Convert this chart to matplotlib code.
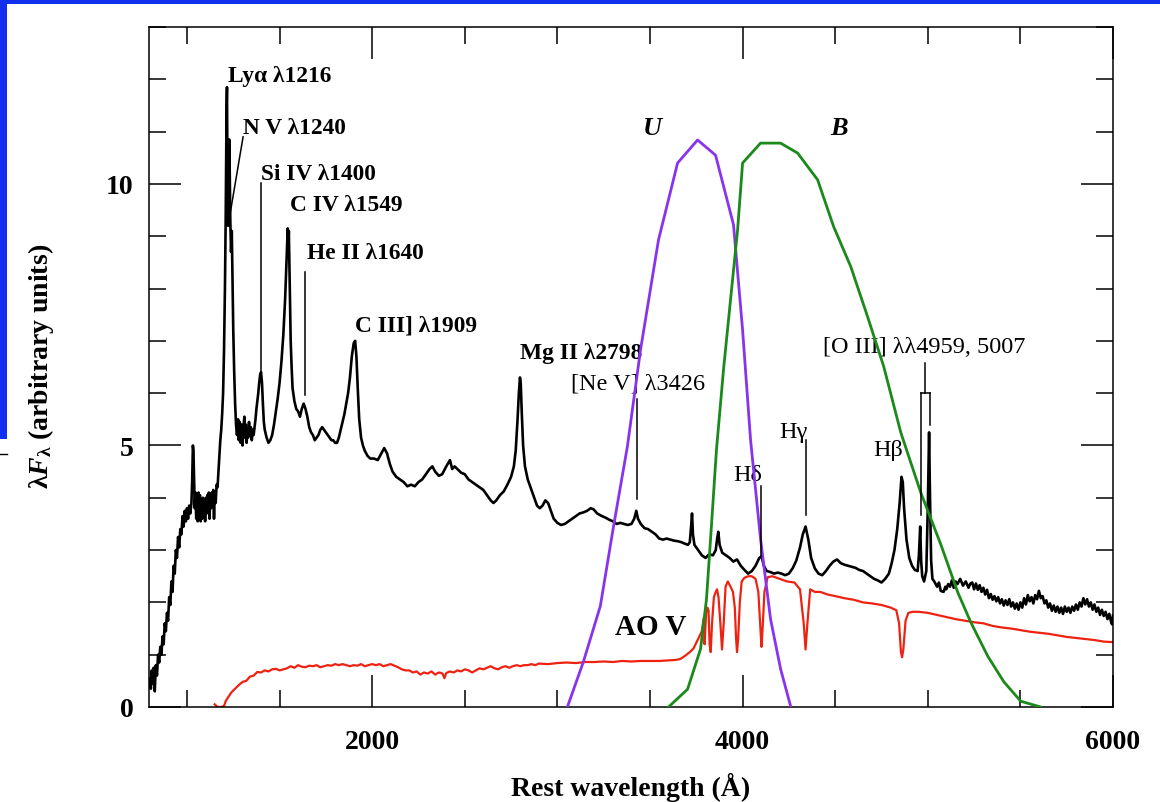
import matplotlib
matplotlib.use("Agg")
import matplotlib.pyplot as plt
from matplotlib.patches import Rectangle
from matplotlib.lines import Line2D
from matplotlib.ticker import MultipleLocator

plt.rcParams['font.family'] = ['Liberation Serif', 'DejaVu Serif']
plt.rcParams['font.weight'] = 'bold'
plt.rcParams['mathtext.fontset'] = 'custom'
plt.rcParams['mathtext.rm'] = 'Liberation Serif:bold'
plt.rcParams['mathtext.it'] = 'Liberation Serif:italic:bold'
plt.rcParams['mathtext.bf'] = 'Liberation Serif:bold'

# quasar composite spectrum
qso_wave = [800, 805, 810, 815, 820, 826, 832, 838, 844, 850, 856, 862, 868, 874, 880, 886, 892, 898,
            904, 910, 916, 922, 928, 934, 940, 946, 952, 958, 964, 970, 976, 982, 988, 994, 1000, 1006,
            1012, 1018, 1024, 1028, 1032, 1035, 1038, 1042, 1046, 1050, 1054, 1058, 1062, 1066, 1070,
            1074, 1078, 1082, 1086, 1090, 1094, 1098, 1102, 1106, 1110, 1114, 1118, 1122, 1126, 1130,
            1134, 1138, 1142, 1146, 1150, 1155, 1160, 1165, 1170, 1175, 1180, 1185, 1190, 1195, 1200,
            1205, 1209, 1212, 1214, 1216, 1219, 1222, 1225, 1228, 1231, 1234, 1238, 1242, 1246, 1250,
            1255, 1260, 1265, 1270, 1276, 1280, 1285, 1290, 1295, 1300, 1305, 1310, 1314, 1318, 1322,
            1326, 1330, 1335, 1340, 1345, 1350, 1355, 1360, 1365, 1370, 1375, 1380, 1385, 1390, 1395,
            1400, 1405, 1410, 1415, 1420, 1430, 1440, 1450, 1460, 1470, 1480, 1490, 1500, 1510, 1520,
            1530, 1536, 1540, 1544, 1548, 1550, 1553, 1556, 1560, 1565, 1570, 1580, 1590, 1600, 1610,
            1620, 1630, 1640, 1650, 1660, 1670, 1680, 1690, 1700, 1710, 1720, 1730, 1740, 1750, 1760,
            1770, 1780, 1790, 1800, 1810, 1820, 1830, 1840, 1850, 1860, 1870, 1880, 1890, 1900, 1908,
            1915, 1922, 1930, 1940, 1950, 1960, 1975, 1990, 2010, 2030, 2050, 2065, 2080, 2095, 2110,
            2130, 2150, 2170, 2190, 2210, 2230, 2250, 2270, 2290, 2310, 2325, 2340, 2360, 2378, 2400,
            2420, 2432, 2445, 2460, 2480, 2500, 2520, 2540, 2560, 2580, 2600, 2620, 2640, 2655, 2670,
            2690, 2710, 2730, 2750, 2765, 2775, 2785, 2792, 2798, 2802, 2808, 2815, 2825, 2840, 2855,
            2870, 2890, 2905, 2920, 2935, 2950, 2965, 2980, 3000, 3020, 3040, 3060, 3080, 3100, 3120,
            3140, 3160, 3180, 3195, 3215, 3240, 3260, 3280, 3300, 3320, 3340, 3360, 3380, 3400, 3415,
            3426, 3435, 3450, 3470, 3490, 3510, 3530, 3550, 3570, 3590, 3610, 3630, 3650, 3670, 3690,
            3705, 3715, 3722, 3727, 3732, 3740, 3760, 3780, 3800, 3820, 3840, 3855, 3862, 3869, 3876,
            3890, 3910, 3930, 3950, 3970, 3990, 4010, 4030, 4050, 4070, 4090, 4102, 4115, 4130, 4150,
            4170, 4190, 4210, 4230, 4250, 4270, 4290, 4310, 4325, 4340, 4355, 4370, 4390, 4410, 4430,
            4450, 4470, 4490, 4510, 4530, 4550, 4570, 4590, 4610, 4630, 4650, 4670, 4690, 4710, 4730,
            4750, 4770, 4790, 4805, 4820, 4835, 4848, 4858, 4865, 4872, 4885, 4900, 4915, 4930, 4945,
            4952, 4959, 4964, 4970, 4980, 4992, 5000, 5007, 5012, 5018, 5025, 5035, 5050, 5060, 5070,
            5085, 5095, 5100, 5110, 5120, 5130, 5140, 5150, 5160, 5175, 5190, 5205, 5220, 5230, 5240,
            5250, 5260, 5270, 5280, 5290, 5300, 5310, 5320, 5330, 5340, 5350, 5360, 5370, 5380, 5390,
            5400, 5410, 5420, 5430, 5440, 5450, 5460, 5470, 5480, 5490, 5500, 5510, 5520, 5530, 5540,
            5550, 5560, 5570, 5580, 5590, 5600, 5610, 5620, 5630, 5640, 5650, 5660, 5670, 5680, 5690,
            5700, 5710, 5720, 5730, 5740, 5750, 5760, 5770, 5780, 5790, 5800, 5810, 5820, 5830, 5840,
            5850, 5860, 5870, 5880, 5890, 5900, 5910, 5920, 5930, 5940, 5950, 5960, 5970, 5980, 5990,
            5995, 6000]
qso_flux = [0.55, 0.35, 0.7, 0.45, 0.75, 0.3, 0.8, 0.6, 1.0, 0.85, 1.15, 1.0, 1.35, 1.2, 1.6, 1.45, 1.8, 1.65,
            2.1, 1.95, 2.4, 2.2, 2.7, 2.55, 3.0, 2.85, 3.25, 3.05, 3.4, 3.3, 3.65, 3.45, 3.75, 3.55, 3.8, 3.6,
            3.85, 3.7, 3.9, 4.3, 5.0, 4.9, 4.4, 3.8, 4.1, 3.6, 4.0, 3.55, 4.1, 3.7, 4.05,
            3.55, 3.95, 3.6, 4.0, 3.65, 3.9, 3.55, 4.0, 3.7, 4.05, 3.75, 4.1, 3.6, 4.05, 3.8,
            4.1, 3.85, 4.15, 3.6, 4.1, 3.9, 4.25, 4.2, 4.5, 4.8, 5.1, 5.3, 5.6, 6.0, 6.8,
            8.0, 9.3, 10.6, 11.5, 11.85, 10.0, 9.2, 9.8, 10.85, 10.2, 9.3, 8.7, 9.1, 8.2, 7.2,
            6.4, 5.8, 5.4, 5.2, 5.5, 5.1, 5.45, 5.05, 5.4, 5.0, 5.35, 5.55, 5.15, 5.4, 5.05,
            5.3, 5.15, 5.45, 5.2, 5.35, 5.1, 5.3, 5.2, 5.35, 5.5, 5.7, 5.85, 6.0, 6.2, 6.35,
            6.4, 6.2, 5.8, 5.45, 5.3, 5.15, 5.05, 5.1, 5.2, 5.4, 5.65, 5.9, 6.2, 6.6, 7.1,
            7.8, 8.4, 8.8, 9.15, 8.9, 9.1, 8.5, 7.8, 7.0, 6.5, 6.1, 5.85, 5.7, 5.65, 5.55,
            5.7, 5.8, 5.7, 5.55, 5.35, 5.25, 5.2, 5.1, 5.15, 5.2, 5.3, 5.35, 5.3, 5.25, 5.2,
            5.15, 5.1, 5.1, 5.05, 5.05, 5.15, 5.3, 5.45, 5.6, 5.8, 6.0, 6.3, 6.7, 6.95, 7.0,
            6.7, 6.1, 5.5, 5.15, 5.0, 4.9, 4.8, 4.75, 4.75, 4.72, 4.85, 4.95, 4.85, 4.65, 4.5,
            4.4, 4.35, 4.3, 4.22, 4.25, 4.22, 4.3, 4.35, 4.45, 4.55, 4.6, 4.5, 4.42, 4.45, 4.6,
            4.72, 4.55, 4.6, 4.55, 4.48, 4.45, 4.35, 4.3, 4.25, 4.2, 4.15, 4.05, 3.95, 3.9, 3.95,
            4.05, 4.12, 4.25, 4.4, 4.6, 4.9, 5.5, 6.0, 6.3, 6.2, 5.6, 5.0, 4.6, 4.35, 4.2,
            4.05, 3.85, 3.8, 3.85, 3.95, 3.9, 3.75, 3.6, 3.52, 3.48, 3.5, 3.55, 3.6, 3.65, 3.7,
            3.72, 3.75, 3.8, 3.78, 3.7, 3.65, 3.62, 3.58, 3.55, 3.5, 3.52, 3.5, 3.48, 3.5, 3.6,
            3.75, 3.6, 3.5, 3.42, 3.4, 3.35, 3.3, 3.22, 3.2, 3.22, 3.2, 3.18, 3.17, 3.15, 3.12,
            3.1, 3.15, 3.45, 3.7, 3.3, 3.1, 3.0, 2.9, 2.85, 2.92, 2.9, 3.0, 3.2, 3.35, 3.1,
            2.95, 2.9, 2.85, 2.78, 2.82, 2.7, 2.62, 2.55, 2.6, 2.7, 2.85, 2.88, 2.7, 2.6, 2.58,
            2.55, 2.57, 2.55, 2.52, 2.55, 2.65, 2.8, 3.05, 3.3, 3.45, 3.2, 2.85, 2.65, 2.55, 2.52,
            2.6, 2.7, 2.78, 2.82, 2.75, 2.72, 2.7, 2.68, 2.66, 2.62, 2.6, 2.55, 2.5, 2.45, 2.42,
            2.38, 2.45, 2.55, 2.75, 3.0, 3.4, 3.9, 4.4, 4.3, 3.8, 3.2, 2.85, 2.7, 2.62, 2.6,
            2.9, 3.45, 2.8, 2.5, 2.4, 2.6, 3.8, 5.25, 4.0, 2.8, 2.45, 2.4, 2.3, 2.38, 2.22,
            2.2, 2.3, 2.25, 2.35, 2.3, 2.42, 2.28, 2.4, 2.35, 2.45, 2.32, 2.4, 2.28, 2.36, 2.38,
            2.25, 2.36, 2.24, 2.33, 2.2, 2.28, 2.15, 2.24, 2.08, 2.16, 2.05, 2.12, 2.02, 2.1, 1.98,
            2.06, 1.94, 2.04, 1.95, 2.06, 1.92, 2.0, 1.88, 1.98, 1.86, 2.0, 1.9, 2.08, 1.96, 2.14,
            2.02, 2.1, 1.98, 2.14, 2.06, 2.22, 2.08, 2.12, 1.98, 2.04, 1.9, 1.98, 1.84, 1.94, 1.82,
            1.92, 1.8, 1.9, 1.78, 1.92, 1.82, 1.9, 1.8, 1.92, 1.84, 1.96, 1.86, 2.0, 1.92, 2.08,
            1.96, 2.06, 1.92, 2.0, 1.86, 1.96, 1.82, 1.9, 1.76, 1.86, 1.74, 1.82, 1.68, 1.78, 1.62,
            1.58, 1.75]

# A0 V star spectrum
star_wave = [1150, 1165, 1185, 1200, 1210, 1225, 1240, 1260, 1280, 1300, 1320, 1340, 1360, 1380, 1400,
             1420, 1440, 1460, 1480, 1500, 1520, 1540, 1560, 1580, 1600, 1620, 1640, 1660, 1680, 1700,
             1720, 1740, 1760, 1780, 1800, 1820, 1840, 1860, 1880, 1900, 1920, 1940, 1960, 1980, 2000,
             2020, 2040, 2060, 2080, 2100, 2120, 2140, 2160, 2180, 2200, 2220, 2240, 2260, 2280, 2300,
             2320, 2340, 2360, 2380, 2390, 2400, 2420, 2440, 2460, 2480, 2500, 2520, 2540, 2560, 2580,
             2600, 2620, 2640, 2660, 2680, 2700, 2720, 2740, 2760, 2780, 2800, 2820, 2840, 2860, 2880,
             2900, 2950, 3000, 3050, 3100, 3150, 3200, 3250, 3300, 3350, 3400, 3450, 3500, 3550, 3600,
             3640, 3665, 3690, 3715, 3735, 3760, 3780, 3790, 3795, 3803, 3810, 3816, 3822, 3828, 3835,
             3845, 3855, 3862, 3870, 3880, 3889, 3898, 3908, 3920, 3935, 3948, 3958, 3965, 3970, 3976,
             3985, 3995, 4010, 4030, 4050, 4070, 4085, 4095, 4102, 4108, 4118, 4135, 4160, 4200, 4240,
             4280, 4310, 4330, 4340, 4350, 4365, 4390, 4420, 4460, 4500, 4550, 4600, 4650, 4700, 4750,
             4800, 4830, 4845, 4855, 4861, 4868, 4880, 4895, 4920, 4950, 5000, 5050, 5100, 5150, 5200,
             5250, 5300, 5350, 5400, 5450, 5500, 5550, 5600, 5650, 5700, 5750, 5800, 5850, 5900, 5950,
             6000]
star_flux = [0.05, 0.0, 0.0, 0.02, 0.12, 0.2, 0.28, 0.35, 0.42, 0.48, 0.5, 0.58, 0.6, 0.67, 0.66,
             0.7, 0.68, 0.72, 0.73, 0.7, 0.72, 0.74, 0.78, 0.75, 0.8, 0.77, 0.76, 0.79, 0.78, 0.8,
             0.76, 0.78, 0.8, 0.79, 0.82, 0.8, 0.82, 0.8, 0.78, 0.8, 0.79, 0.82, 0.78, 0.8, 0.82,
             0.8, 0.82, 0.78, 0.8, 0.82, 0.79, 0.76, 0.72, 0.7, 0.7, 0.66, 0.68, 0.62, 0.66, 0.64,
             0.68, 0.62, 0.66, 0.64, 0.55, 0.65, 0.68, 0.66, 0.7, 0.68, 0.72, 0.7, 0.66, 0.7, 0.74,
             0.72, 0.75, 0.78, 0.74, 0.72, 0.76, 0.78, 0.75, 0.78, 0.8, 0.78, 0.8, 0.8, 0.82, 0.8,
             0.83, 0.82, 0.84, 0.85, 0.84, 0.86, 0.86, 0.87, 0.86, 0.88, 0.87, 0.88, 0.88, 0.88, 0.89,
             0.9, 0.92, 0.98, 1.05, 1.12, 1.3, 1.45, 1.7, 1.2, 1.8, 1.9, 1.85, 1.2, 1.05, 1.6,
             2.1, 2.2, 2.25, 2.1, 1.6, 1.1, 1.6, 2.3, 2.4, 2.3, 2.2, 1.9, 1.3, 1.05, 1.3,
             2.0, 2.4, 2.47, 2.5, 2.5, 2.45, 2.2, 1.6, 1.15, 1.5, 2.2, 2.48, 2.5, 2.45, 2.4,
             2.38, 2.25, 1.6, 1.1, 1.6, 2.25, 2.2, 2.2, 2.15, 2.12, 2.08, 2.05, 2.0, 1.98, 1.95,
             1.9, 1.85, 1.6, 1.05, 0.95, 1.1, 1.65, 1.8, 1.82, 1.82, 1.8, 1.76, 1.72, 1.68, 1.65,
             1.62, 1.6, 1.55, 1.52, 1.5, 1.47, 1.44, 1.42, 1.4, 1.37, 1.34, 1.32, 1.3, 1.28, 1.25,
             1.24]

# U and B filter curves (scaled)
u_wave = [3054, 3140, 3232, 3303, 3378, 3449, 3546, 3649, 3757, 3854, 3951, 4000, 4043, 4097, 4151, 4205, 4259]
u_resp = [0.0, 0.86, 1.93, 3.45, 4.98, 6.83, 8.93, 10.40, 10.84, 10.55, 9.22, 7.21, 5.11, 3.21, 1.68, 0.73, 0.02]
b_wave = [3600, 3703, 3773, 3805, 3827, 3859, 3897, 3935, 3973, 4000, 4097, 4205, 4297, 4405, 4492, 4584,
          4675, 4762, 4854, 4962, 5070, 5162, 5232, 5324, 5411, 5502, 5610]
b_resp = [0.0, 0.34, 1.11, 2.06, 3.21, 4.92, 6.45, 7.79, 9.12, 10.40, 10.78, 10.78, 10.59, 10.08, 9.18, 8.42,
          7.46, 6.51, 5.25, 4.10, 3.11, 2.19, 1.62, 0.97, 0.48, 0.11, 0.0]

# line labels: text, x, y, bold
labels = [("Ly\u03b1 \u03bb1216", 1222, 12.08, True),
          ("N V \u03bb1240", 1303, 11.07, True),
          ("Si IV \u03bb1400", 1400, 10.19, True),
          ("C IV \u03bb1549", 1557, 9.6, True),
          ("He II \u03bb1640", 1649, 8.68, True),
          ("C III] \u03bb1909", 1908, 7.31, True),
          ("Mg II \u03bb2798", 2800, 6.77, True),
          ("[Ne V] \u03bb3426", 3076, 6.2, False),
          ("H\u03b4", 3951, 4.45, False),
          ("H\u03b3", 4200, 5.27, False),
          ("H\u03b2", 4703, 4.92, False),
          ("[O III] \u03bb\u03bb4959, 5007", 4432, 6.89, False)]

# marker lines: (x0, x1), (y0, y1)
markers = [((1303, 1232), (10.9, 9.41)),
           ((1400, 1400), (10.02, 6.41)),
           ((1640, 1640), (8.32, 5.97)),
           ((3432, 3432), (5.88, 3.97)),
           ((4102, 4102), (4.22, 2.86)),
           ((4340, 4340), (5.1, 3.68)),
           ((4985, 4985), (6.58, 6.01)),
           ((4962, 5012), (6.01, 6.01)),
           ((4962, 4962), (6.01, 3.68)),
           ((5012, 5012), (6.01, 5.4))]

fig = plt.figure(figsize=(11.6, 8.03), dpi=100)
ax = fig.add_axes([149 / 1160, 95 / 803, 964 / 1160, 680 / 803])

ax.plot(star_wave, star_flux, color='#ee2211', lw=1.6, zorder=2)
ax.plot(qso_wave, qso_flux, color='black', lw=1.9, zorder=3)
ax.plot(u_wave, u_resp, color='#8833ee', lw=2, zorder=4)
ax.plot(b_wave, b_resp, color='#1a8a1a', lw=2, zorder=4)

for (xs, ys) in markers:
    ax.plot(xs, ys, color='black', lw=1.1, zorder=5)

for text, x, y, bold in labels:
    ax.text(x, y, text, fontsize=16.8 if bold else 17.5, fontweight='bold' if bold else 'normal',
            ha='left', va='center')

ax.text(3313, 1.53, "AO V", fontsize=21, fontweight='bold', ha='left', va='center')
ax.text(3513, 11.07, "U", fontsize=19, fontweight='bold', style='italic', ha='center', va='center')
ax.text(4519, 11.07, "B", fontsize=19, fontweight='bold', style='italic', ha='center', va='center')

ax.set_xlim(795, 6000)
ax.set_ylim(0, 13)
ax.xaxis.set_major_locator(MultipleLocator(2000))
ax.xaxis.set_minor_locator(MultipleLocator(500))
ax.yaxis.set_major_locator(MultipleLocator(5))
ax.yaxis.set_minor_locator(MultipleLocator(1))
ax.tick_params(which='both', direction='in', top=True, right=True, width=1.1, labelsize=20)
ax.tick_params(which='major', length=23, pad=11)
ax.tick_params(which='minor', length=12)
ax.tick_params(axis='x', which='major', pad=16)
for s in ax.spines.values():
    s.set_linewidth(1.1)

fig.text(631 / 1160, 1 - 787 / 803, "Rest wavelength (\u00c5)", fontsize=20, fontweight='bold',
         ha='center', va='center')
fig.text(41 / 1160, 1 - 366 / 803, r'$\mathrm{\lambda}\mathit{F}_{\mathrm{\lambda}}$ (arbitrary units)',
         fontsize=20, fontweight='bold', rotation=90, ha='center', va='center')

# slide frame
blue = '#1030ee'
fig.add_artist(Rectangle((0, 1 - 5 / 803), 1, 5 / 803, transform=fig.transFigure, color=blue, lw=0))
fig.add_artist(Rectangle((0, 1 - 440 / 803), 7 / 1160, 440 / 803, transform=fig.transFigure, color=blue, lw=0))
fig.add_artist(Line2D([0, 7 / 1160], [1 - 455 / 803, 1 - 455 / 803], transform=fig.transFigure, color='black', lw=1))

fig.savefig('out.png', dpi=100)
